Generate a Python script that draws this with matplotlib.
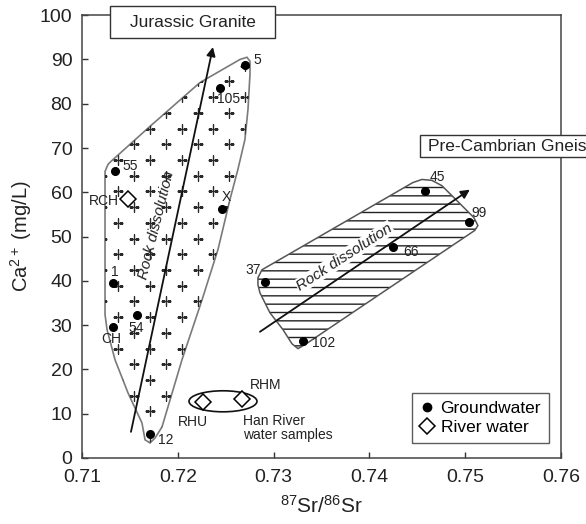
import numpy as np
import matplotlib
matplotlib.use('Agg')
import matplotlib.pyplot as plt
from matplotlib.patches import Polygon, Ellipse, Rectangle
from matplotlib.lines import Line2D

plt.rcParams['font.family'] = ['Liberation Sans', 'DejaVu Sans']
plt.rcParams['mathtext.fontset'] = 'custom'
plt.rcParams['mathtext.rm'] = 'Liberation Sans'
plt.rcParams['mathtext.it'] = 'Liberation Sans:italic'
plt.rcParams['hatch.linewidth'] = 1.0

# groundwater samples (87Sr/86Sr, Ca2+ mg/L)
gw_labels = ['5', '105', '55', 'X', '1', '54', 'CH', '12', '37', '102', '66', '45', '99']
gw_sr = [0.7270, 0.7244, 0.7134, 0.7246, 0.7132, 0.7157, 0.7132, 0.7171,
         0.7291, 0.7331, 0.7425, 0.7458, 0.7504]
gw_ca = [88.7, 83.5, 64.9, 56.3, 39.6, 32.4, 29.6, 5.4, 39.8, 26.5, 47.7, 60.4, 53.2]

# river water samples
river_labels = ['RCH', 'RHU', 'RHM']
river_sr = [0.7148, 0.7226, 0.7267]
river_ca = [58.4, 12.7, 13.3]

# outline of the Jurassic granite field
granite_sr = [0.71240, 0.71271, 0.71303, 0.71710, 0.72232, 0.72649, 0.72722, 0.72754,
              0.72754, 0.72733, 0.72701, 0.72628, 0.72545, 0.72420, 0.72253, 0.72044,
              0.71835, 0.71762, 0.71710, 0.71658, 0.71626, 0.71480, 0.71344, 0.71261,
              0.71240]
granite_ca = [64.7, 66.3, 67.0, 74.9, 84.8, 90.0, 90.5, 89.6,
              86.7, 78.7, 71.9, 65.2, 58.4, 47.1, 35.7, 22.2,
              7.0, 4.5, 3.4, 4.1, 7.9, 14.7, 22.2, 29.0,
              32.4]

# outline of the Pre-Cambrian gneiss field
gneiss_sr = [0.72837, 0.72879, 0.74455, 0.74549, 0.74653, 0.74758, 0.75092, 0.75134,
             0.75102, 0.73328, 0.73255, 0.73192, 0.73098, 0.72962, 0.72858, 0.72837]
gneiss_ca = [40.7, 42.5, 62.2, 62.9, 62.7, 61.5, 54.3, 52.5,
             51.4, 25.6, 24.7, 25.8, 29.0, 32.8, 37.3, 39.1]

# rock dissolution trends (start, end)
granite_arrow_sr = [0.71511, 0.72367]
granite_arrow_ca = [5.9, 92.8]
gneiss_arrow_sr = [0.72858, 0.75050]
gneiss_arrow_ca = [28.5, 60.6]

# Han River samples ellipse (centre, width, height)
han_center = (0.72472, 12.8)
han_size = (0.0071, 4.75)

x_ticks = [0.71, 0.72, 0.73, 0.74, 0.75, 0.76]
y_ticks = [0, 10, 20, 30, 40, 50, 60, 70, 80, 90, 100]

# label offsets in points and alignment
gw_offsets = {'5': (6, 3.5, 'left'), '105': (6.5, -8, 'center'), '55': (6, 3, 'left'),
              'X': (3, 8.5, 'center'), '1': (1.5, 8, 'center'), '54': (0, -9.5, 'center'),
              'CH': (-1, -8.5, 'center'), '12': (6, -4, 'left'), '37': (-8.5, 8.5, 'center'),
              '102': (6.5, -1.5, 'left'), '66': (7, -3.5, 'left'), '45': (3.5, 9.5, 'left'),
              '99': (2, 7, 'left')}
river_offsets = {'RCH': (-6.5, -1.5, 'right'), 'RHU': (-7, -14.5, 'center'),
                 'RHM': (17, 10, 'center')}

txt = '#222222'

fig = plt.figure(figsize=(5.86, 5.24), dpi=100)
ax = fig.add_axes([0.14, 0.126, 0.817, 0.845])
ax.set_xlim(0.71, 0.76)
ax.set_ylim(0, 100)

# granite field with + pattern
granite = Polygon(np.column_stack([granite_sr, granite_ca]), closed=True,
                  facecolor='none', edgecolor='#7a7a7a', lw=1.2, zorder=2)
ax.add_patch(granite)
dx, dy = 0.003309, 3.55
px, py = [], []
for r in range(-20, 12):
    shift = 0 if r % 2 == 0 else dx / 2
    for c in range(-2, 6):
        px.append(0.71379 + shift + c * dx)
        py.append(67.3 + r * dy)
pluses = ax.scatter(px, py, marker='+', s=45, linewidths=1.0, color='#2a2a2a', zorder=2)
pluses.set_clip_path(granite)

# gneiss field with horizontal hatch
ax.add_patch(Polygon(np.column_stack([gneiss_sr, gneiss_ca]), closed=True,
                     facecolor='none', edgecolor='#222222', lw=0, hatch='--', zorder=2))
ax.add_patch(Polygon(np.column_stack([gneiss_sr, gneiss_ca]), closed=True,
                     facecolor='none', edgecolor='#555555', lw=1.1, zorder=2))

# trend arrows
for xs, ys in [(granite_arrow_sr, granite_arrow_ca), (gneiss_arrow_sr, gneiss_arrow_ca)]:
    ax.annotate('', xy=(xs[1], ys[1]), xytext=(xs[0], ys[0]),
                arrowprops=dict(arrowstyle='-|>', color='#111111', lw=1.3,
                                mutation_scale=13, shrinkA=0, shrinkB=0), zorder=4)

ax.text(0.71775, 52.5, 'Rock dissolution', rotation=76, style='italic', fontsize=11,
        color=txt, ha='center', va='center', zorder=3)
ax.text(0.7374, 45.4, 'Rock dissolution', rotation=33, style='italic', fontsize=11,
        color=txt, ha='center', va='center', zorder=3,
        bbox=dict(boxstyle='square,pad=0.05', fc='white', ec='none'))

# Han River ellipse
ax.add_patch(Ellipse(han_center, han_size[0], han_size[1], facecolor='none',
                     edgecolor='#111111', lw=1.2, zorder=3))
ax.text(0.72681, 6.8, 'Han River\nwater samples', fontsize=10, color=txt,
        ha='left', va='center', linespacing=1.05)

# samples
ax.plot(gw_sr, gw_ca, 'o', color='black', ms=5.5, zorder=5)
ax.plot(river_sr, river_ca, 'D', mfc='white', mec='black', mew=1.1, ms=8, zorder=5)

for lab, x, y in zip(gw_labels, gw_sr, gw_ca):
    ox, oy, ha = gw_offsets[lab]
    ax.annotate(lab, (x, y), xytext=(ox, oy), textcoords='offset points', fontsize=10,
                color=txt, ha=ha, va='center', zorder=5)
for lab, x, y in zip(river_labels, river_sr, river_ca):
    ox, oy, ha = river_offsets[lab]
    ax.annotate(lab, (x, y), xytext=(ox, oy), textcoords='offset points', fontsize=10,
                color=txt, ha=ha, va='center', zorder=5)

# rock type boxes
ax.add_patch(Rectangle((0.0585, 0.948), 0.3445, 0.0723, transform=ax.transAxes,
                       facecolor='white', edgecolor='#333333', lw=1.0, clip_on=False, zorder=6))
ax.text(0.2307, 0.984, 'Jurassic Granite', transform=ax.transAxes, fontsize=12.5,
        color=txt, ha='center', va='center', zorder=7)
ax.add_patch(Rectangle((0.7056, 0.679), 0.4, 0.05, transform=ax.transAxes,
                       facecolor='white', edgecolor='#333333', lw=1.0, clip_on=False, zorder=6))
ax.text(0.7223, 0.704, 'Pre-Cambrian Gneiss', transform=ax.transAxes, fontsize=12.5,
        color=txt, ha='left', va='center', zorder=7, clip_on=False)

# legend
handles = [Line2D([], [], marker='o', ls='none', color='black', ms=6),
           Line2D([], [], marker='D', ls='none', mfc='white', mec='black', mew=1.1, ms=8)]
leg = ax.legend(handles, ['Groundwater', 'River water'], loc='lower right',
                bbox_to_anchor=(0.975, 0.034), borderaxespad=0, fontsize=12.5,
                frameon=True, fancybox=False, edgecolor='#333333', handlelength=0.8,
                handletextpad=0.4, labelspacing=0.25, borderpad=0.45)
leg.get_frame().set_linewidth(1.0)
leg.set_zorder(8)

# axes
ax.set_xticks(x_ticks)
ax.set_xticklabels(['%.2f' % v for v in x_ticks])
ax.set_yticks(y_ticks)
ax.tick_params(direction='in', length=4, width=1, labelsize=14, colors='#333333',
               labelcolor=txt)
ax.tick_params(axis='x', pad=8)
ax.tick_params(axis='y', pad=7)
for s in ax.spines.values():
    s.set_color('#444444')
    s.set_linewidth(1.1)
ax.set_xlabel(r'$^{87}$Sr/$^{86}$Sr', fontsize=15, color=txt, labelpad=6)
ax.set_ylabel(r'Ca$^{2+}$ (mg/L)', fontsize=14.5, color=txt, labelpad=4)

fig.savefig('out.png', dpi=100)
